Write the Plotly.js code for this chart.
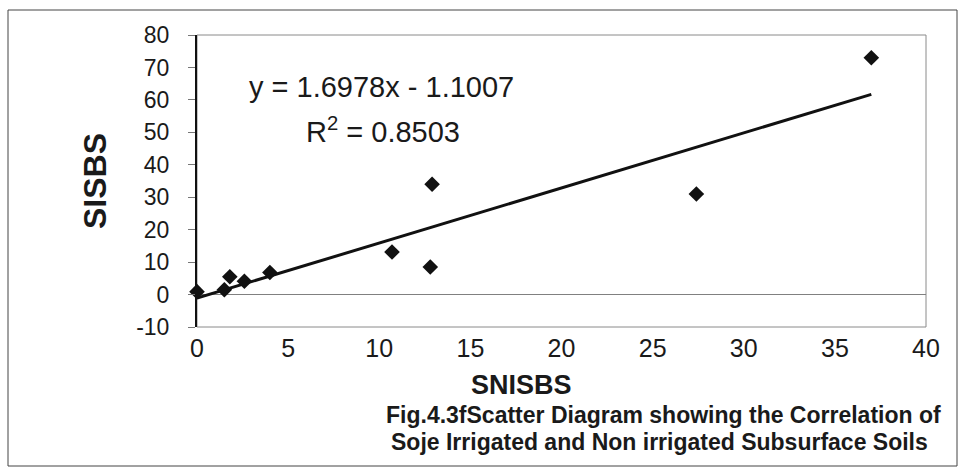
<!DOCTYPE html>
<html>
<head>
<meta charset="utf-8">
<script src="https://cdn.plot.ly/plotly-3.0.1.min.js"></script>
<style>
  html, body { margin: 0; padding: 0; background: #ffffff; }
  #chart { width: 960px; height: 470px; }
</style>
</head>
<body>
<div id="chart"></div>
<script>
// Data
const snisbs = [0, 1.5, 1.8, 2.6, 4.0, 10.7, 12.8, 12.9, 27.4, 37.0];
const sisbs  = [0.9, 1.5, 5.5, 4.1, 6.8, 13.1, 8.5, 34.0, 31.0, 73.0];

// Trendline coefficients printed on the chart
const slope = 1.6978;
const intercept = -1.1007;
const rSquared = 0.8503;

const xTickVals = [0, 5, 10, 15, 20, 25, 30, 35, 40];
const yTickVals = [-10, 0, 10, 20, 30, 40, 50, 60, 70, 80];
const yMin = -10, yMax = 80, xLo = 0, xHi = 40;

const xMin = Math.min(...snisbs);
const xMax = Math.max(...snisbs);
const trendX = [xMin, xMax];
const trendY = trendX.map(v => slope * v + intercept);

const fontFam = '"Liberation Sans", Arial, sans-serif';
const ink = '#1a1a1a';

// fraction of the plot height where y = 0 sits (used for the zero-axis with ticks)
const zeroFrac = (0 - yMin) / (yMax - yMin);

const traces = [
  {
    x: trendX, y: trendY,
    type: 'scatter', mode: 'lines',
    line: { color: '#111111', width: 3 },
    hoverinfo: 'skip', showlegend: false
  },
  {
    x: snisbs, y: sisbs,
    type: 'scatter', mode: 'markers',
    marker: { symbol: 'diamond', size: 12, color: '#111111' },
    cliponaxis: false,
    showlegend: false
  }
];

const layout = {
  width: 960, height: 470,
  margin: { l: 197, r: 34, t: 35, b: 143 },
  paper_bgcolor: '#ffffff', plot_bgcolor: 'rgba(0,0,0,0)',
  showlegend: false,
  font: { family: fontFam, color: ink },
  xaxis: {
    range: [xLo, xHi], tickvals: xTickVals, ticktext: xTickVals.map(String),
    anchor: 'y', domain: [0, 1],
    showgrid: false, zeroline: false, showline: false,
    ticks: '', ticklabelstandoff: 4,
    tickfont: { size: 25, family: fontFam, color: ink },
    fixedrange: true
  },
  // axis drawn at y = 0 carrying the downward tick marks
  xaxis2: {
    range: [xLo, xHi], tickvals: xTickVals, anchor: 'y2', domain: [0, 1],
    showticklabels: false, showgrid: false, zeroline: false,
    showline: true, linecolor: '#808080', linewidth: 1,
    ticks: 'outside', ticklen: 6, tickcolor: '#555555', tickwidth: 1,
    fixedrange: true
  },
  yaxis2: {
    range: [0, yMax], domain: [zeroFrac, 1], anchor: 'x2',
    visible: false, showgrid: false, zeroline: false, fixedrange: true
  },
  yaxis: {
    range: [yMin, yMax], tickvals: yTickVals, ticktext: yTickVals.map(String),
    showgrid: false,
    zeroline: true, zerolinecolor: '#808080', zerolinewidth: 1,
    showline: true, linecolor: '#111111', linewidth: 2,
    ticks: 'outside', ticklen: 7, tickcolor: '#777777', tickwidth: 1,
    ticklabelstandoff: 14,
    tickfont: { size: 23, family: fontFam, color: ink },
    title: { text: '<b>SISBS</b>', font: { size: 32, family: fontFam, color: ink }, standoff: 20 },
    fixedrange: true
  },
  shapes: [
    { type: 'rect', xref: 'paper', yref: 'paper', x0: 0, x1: 1, y0: 0, y1: 1,
      line: { color: '#8a8a8a', width: 1 }, layer: 'below' },
    { type: 'rect', xref: 'paper', yref: 'paper',
      x0: (8 - 197) / 729, x1: (957 - 197) / 729,
      y0: (327 - 466) / 292, y1: (327 - 10) / 292,
      line: { color: '#444444', width: 1 }, layer: 'below' }
  ],
  annotations: [
    { xref: 'x', yref: 'y', x: 10.1, y: 64, showarrow: false,
      text: 'y = ' + slope.toFixed(4) + 'x - ' + Math.abs(intercept).toFixed(4),
      font: { size: 29, family: fontFam, color: ink } },
    { xref: 'x', yref: 'y', x: 10.2, y: 50.6, showarrow: false,
      text: 'R<sup>2</sup> = ' + rSquared.toFixed(4),
      font: { size: 29, family: fontFam, color: ink } },
    { xref: 'paper', yref: 'paper', x: (521 - 197) / 729, y: (327 - 385) / 292,
      xanchor: 'center', yanchor: 'middle', showarrow: false,
      text: '<b>SNISBS</b>',
      font: { size: 27, family: fontFam, color: ink } },
    { xref: 'paper', yref: 'paper', x: (663 - 197) / 729, y: (327 - 415) / 292,
      xanchor: 'center', yanchor: 'middle', showarrow: false,
      text: '<b>Fig.4.3fScatter Diagram showing the Correlation of</b>',
      font: { size: 23, family: fontFam, color: ink } },
    { xref: 'paper', yref: 'paper', x: (659 - 197) / 729, y: (327 - 442) / 292,
      xanchor: 'center', yanchor: 'middle', showarrow: false,
      text: '<b>Soje Irrigated and Non irrigated Subsurface Soils</b>',
      font: { size: 23, family: fontFam, color: ink } }
  ]
};

Plotly.newPlot('chart', traces, layout, { displayModeBar: false, staticPlot: true });
</script>
</body>
</html>
